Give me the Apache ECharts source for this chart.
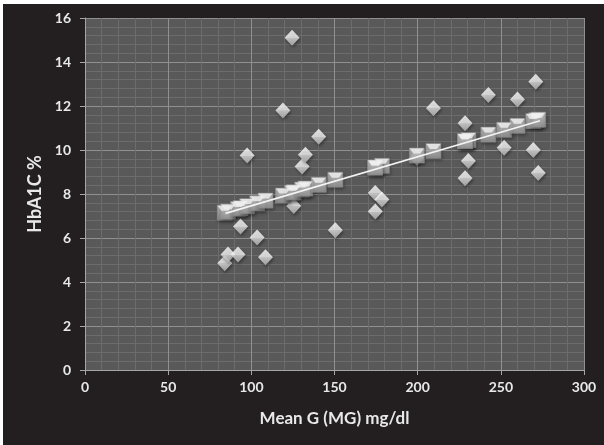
<!DOCTYPE html>
<html>
<head>
<meta charset="utf-8">
<script src="https://cdn.jsdelivr.net/npm/echarts@6/dist/echarts.min.js"></script>
<style>
  html, body { margin: 0; padding: 0; background: #ffffff; width: 604px; height: 445px; overflow: hidden; }
  #chart { position: absolute; left: 3px; top: 4px; width: 601px; height: 441px; }
</style>
</head>
<body>
<div id="chart"></div>
<script>
// Mean glucose (mg/dl) for each subject
const meanG = [84, 86, 92, 93.5, 97.5, 103.5, 108.5, 119, 124.5, 125.5, 130.5, 132.5, 140.5, 150.5,
               174.5, 178.5, 174.5, 199.5, 209.5, 228.5, 230.5, 228.5, 242.5, 252, 260, 271, 269.5, 272.5];
// Measured HbA1C %
const hba1c = [4.85, 5.25, 5.25, 6.52, 9.75, 6.02, 5.12, 11.8, 15.1, 7.45, 9.25, 9.78, 10.6, 6.35,
               8.05, 7.75, 7.2, 9.65, 11.9, 11.22, 9.5, 8.72, 12.5, 10.1, 12.3, 13.1, 10.0, 8.95];
// Predicted HbA1C % (square markers)
const predicted = [7.15, 7.2, 7.32, 7.36, 7.45, 7.58, 7.7, 7.93, 8.06, 8.08, 8.2, 8.25, 8.42, 8.65,
                   9.2, 9.28, 9.2, 9.75, 9.96, 10.4, 10.45, 10.4, 10.7, 10.92, 11.1, 11.35, 11.32, 11.38];
// Linear trendline end points
const trendX = [84.5, 273.5];
const trendY = [7.12, 11.33];
// Axis ticks
const xTicks = [0, 50, 100, 150, 200, 250, 300];
const yTicks = [0, 2, 4, 6, 8, 10, 12, 14, 16];

const measuredData = meanG.map((x, i) => [x, hba1c[i]]);
const predictedData = meanG.map((x, i) => [x, predicted[i]]);
const trendData = trendX.map((x, i) => [x, trendY[i]]);

const chart = echarts.init(document.getElementById('chart'), null, { renderer: 'canvas' });
const textColor = '#e8e8e8';
const fontFam = 'Lato, "Open Sans", sans-serif';

chart.setOption({
  backgroundColor: '#231f20',
  animation: false,
  grid: {
    left: 82, top: 14, width: 499, height: 352,
    show: true, backgroundColor: '#595959', borderWidth: 0
  },
  xAxis: {
    type: 'value',
    min: xTicks[0], max: xTicks[xTicks.length - 1], interval: 50,
    name: 'Mean G (MG) mg/dl',
    nameLocation: 'middle', nameGap: 40,
    nameTextStyle: { color: textColor, fontSize: 17, fontWeight: 'bold', fontFamily: fontFam },
    axisLine: { show: true, lineStyle: { color: '#a6a6a6', width: 1 } },
    axisTick: { show: true, length: 5, lineStyle: { color: '#a6a6a6' } },
    axisLabel: { color: textColor, fontSize: 14, fontWeight: 'bold', fontFamily: fontFam, margin: 10 },
    splitLine: { show: true, lineStyle: { color: '#909090', width: 1 } },
    minorTick: { show: false, splitNumber: 5 },
    minorSplitLine: { show: true, lineStyle: { color: '#6c6c6c', width: 1 } }
  },
  yAxis: {
    type: 'value',
    min: yTicks[0], max: yTicks[yTicks.length - 1], interval: 2,
    name: 'HbA1C %',
    nameLocation: 'middle', nameGap: 36, nameRotate: 90,
    nameTextStyle: { color: textColor, fontSize: 18, fontWeight: 'bold', fontFamily: fontFam },
    axisLine: { show: true, lineStyle: { color: '#a6a6a6', width: 1 } },
    axisTick: { show: true, length: 5, lineStyle: { color: '#a6a6a6' } },
    axisLabel: { color: textColor, fontSize: 14, fontWeight: 'bold', fontFamily: fontFam, margin: 14 },
    splitLine: { show: true, lineStyle: { color: '#909090', width: 1 } },
    minorTick: { show: false, splitNumber: 5 },
    minorSplitLine: { show: true, lineStyle: { color: '#6c6c6c', width: 1 } }
  },
  series: [
    {
      name: 'HbA1C',
      type: 'scatter',
      data: measuredData,
      symbol: 'diamond',
      symbolSize: [15, 16],
      z: 2,
      itemStyle: {
        color: {
          type: 'linear', x: 0, y: 0, x2: 0, y2: 1,
          colorStops: [
            { offset: 0, color: '#ffffff' },
            { offset: 0.5, color: '#f6f6f6' },
            { offset: 0.51, color: '#e0e0e0' },
            { offset: 1, color: '#b6b6b6' }
          ]
        },
        shadowBlur: 3, shadowColor: 'rgba(0,0,0,0.45)', shadowOffsetX: 1, shadowOffsetY: 2
      }
    },
    {
      name: 'Predicted',
      type: 'scatter',
      data: predictedData,
      symbol: 'rect',
      symbolSize: 15,
      z: 3,
      itemStyle: {
        color: {
          type: 'linear', x: 0, y: 0, x2: 0, y2: 1,
          colorStops: [
            { offset: 0, color: '#d6d6d6' },
            { offset: 1, color: '#9c9c9c' }
          ]
        },
        borderColor: '#8a8a8a', borderWidth: 0.8,
        shadowBlur: 3, shadowColor: 'rgba(0,0,0,0.45)', shadowOffsetX: 1, shadowOffsetY: 2
      }
    },
    {
      name: 'PredictedBevel',
      type: 'scatter',
      data: predictedData,
      symbol: 'path://M0,0 L16,0 L12,5 L4,5 Z',
      symbolSize: [14, 5],
      symbolOffset: [0, -4.5],
      z: 4,
      silent: true,
      itemStyle: { color: '#f0f0f0' }
    },
    {
      name: 'Trend',
      type: 'line',
      data: trendData,
      symbol: 'none',
      z: 5,
      lineStyle: { color: '#f4f4f4', width: 1.6 }
    }
  ]
});
</script>
</body>
</html>
